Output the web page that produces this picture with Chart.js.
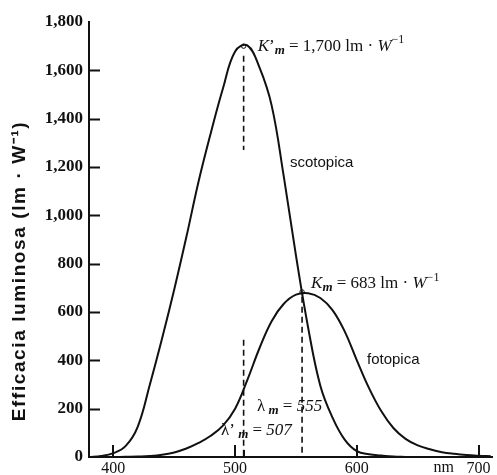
<!DOCTYPE html>
<html>
<head>
<meta charset="utf-8">
<script src="https://cdn.jsdelivr.net/npm/chart.js@4"></script>
<style>
  html, body { margin: 0; padding: 0; background: #fff; }
  #wrap { width: 497px; height: 475px; position: relative; }
</style>
</head>
<body>
<div id="wrap"><canvas id="chart"></canvas></div>
<script>
// wavelengths (nm) and luminous efficacy (lm/W)
const scotopicNm = [380, 390, 400, 410, 420, 430, 440, 450, 460, 470, 480, 490, 500, 510, 520, 530, 540, 550, 560, 570, 580, 590, 600, 610, 620, 630, 640];
const scotopicValues = [0, 4, 16, 45, 125, 300, 490, 693, 911, 1140, 1340, 1525, 1678, 1703, 1612, 1455, 1160, 833, 535, 295, 163, 72, 24, 11, 6, 2, 0];

const photopicNm = [400, 410, 420, 430, 440, 450, 460, 470, 480, 490, 500, 510, 520, 530, 540, 550, 560, 570, 580, 590, 600, 610, 620, 630, 640, 650, 660, 670, 680, 690, 700, 710];
const photopicValues = [0, 1, 2, 4, 9, 19, 35, 58, 88, 130, 200, 318, 450, 562, 634, 672, 678, 658, 608, 520, 400, 285, 190, 120, 75, 48, 32, 20, 13, 8, 5, 3];

const xTicks = [400, 500, 600, 700];
const yTicks = [0, 200, 400, 600, 800, 1000, 1200, 1400, 1600, 1800];

// peaks: lambda'm = 507 (K'm = 1700), lambda m = 555 (Km = 683)
const peakNm = [507, 555];
const peakValues = [1700, 683];

const toPoints = (xs, ys) => xs.map((x, i) => ({ x: x, y: ys[i] }));

const ink = '#111';
const serif = '"Liberation Serif", "DejaVu Serif", serif';
const sans = '"Liberation Sans", Arial, sans-serif';

// draw a row of text pieces with different fonts / offsets
function drawRuns(ctx, x, y, runs) {
  runs.forEach(r => {
    ctx.font = r.font;
    ctx.fillText(r.t, x, y + (r.dy || 0));
    x += ctx.measureText(r.t).width;
  });
}

const extras = {
  id: 'extras',
  afterDraw(chart) {
    const ctx = chart.ctx;
    const xs = chart.scales.x, ys = chart.scales.y;
    const left = chart.chartArea.left, bottom = chart.chartArea.bottom;
    ctx.save();
    ctx.strokeStyle = ink;
    ctx.fillStyle = ink;
    ctx.lineWidth = 2;

    // inward tick marks
    ctx.beginPath();
    yTicks.slice(1, -1).forEach(v => {
      const py = Math.round(ys.getPixelForValue(v)) + 0.5;
      ctx.moveTo(left, py);
      ctx.lineTo(left + 11, py);
    });
    xTicks.forEach(v => {
      const px = Math.round(xs.getPixelForValue(v));
      ctx.moveTo(px, bottom);
      ctx.lineTo(px, bottom - 12);
    });
    const p507 = Math.round(xs.getPixelForValue(peakNm[0]));
    ctx.moveTo(p507, bottom);
    ctx.lineTo(p507, bottom - 7);
    ctx.stroke();

    // "nm" before 700
    ctx.font = '16px ' + serif;
    ctx.textAlign = 'center';
    ctx.textBaseline = 'top';
    ctx.fillText('nm', xs.getPixelForValue(700) - 35, bottom + 3);

    // y axis title
    ctx.save();
    ctx.translate(20, 271);
    ctx.rotate(-Math.PI / 2);
    ctx.textAlign = 'center';
    ctx.textBaseline = 'middle';
    ctx.font = 'bold 19px ' + sans;
    ctx.letterSpacing = '1.6px';
    ctx.fillText('Efficacia luminosa (lm \u00b7 W\u207b\u00b9)', 0, 0);
    ctx.restore();

    ctx.textAlign = 'left';
    ctx.textBaseline = 'middle';
    const sx = xs.getPixelForValue(peakNm[0]), sy = ys.getPixelForValue(peakValues[0]);
    const fx = xs.getPixelForValue(peakNm[1]), fy = ys.getPixelForValue(peakValues[1]);

    drawRuns(ctx, sx + 14, sy, [
      { t: 'K', font: 'italic 17px ' + serif },
      { t: '\u2019', font: '17px ' + serif },
      { t: 'm', font: 'italic bold 13px ' + serif, dy: 4 },
      { t: ' = 1,700 lm \u00b7 ', font: '17px ' + serif },
      { t: 'W', font: 'italic 17px ' + serif },
      { t: '\u22121', font: '12px ' + serif, dy: -6 }
    ]);
    drawRuns(ctx, fx + 9, fy - 8, [
      { t: 'K', font: 'italic 17px ' + serif },
      { t: 'm', font: 'italic bold 13px ' + serif, dy: 4 },
      { t: ' = 683 lm \u00b7 ', font: '17px ' + serif },
      { t: 'W', font: 'italic 17px ' + serif },
      { t: '\u22121', font: '12px ' + serif, dy: -6 }
    ]);
    drawRuns(ctx, 257, 407, [
      { t: '\u03bb', font: '17px ' + serif },
      { t: ' m', font: 'italic bold 13px ' + serif, dy: 4 },
      { t: ' = ', font: '17px ' + serif },
      { t: '555', font: 'italic 17px ' + serif }
    ]);
    drawRuns(ctx, 221, 431, [
      { t: '\u03bb\u2019', font: '17px ' + serif },
      { t: ' m', font: 'italic bold 13px ' + serif, dy: 4 },
      { t: ' = ', font: '17px ' + serif },
      { t: '507', font: 'italic 17px ' + serif }
    ]);

    ctx.font = '15px ' + sans;
    ctx.fillText('scotopica', 290, 163);
    ctx.fillText('fotopica', 367, 360);
    ctx.restore();
  }
};

const dashed = { borderColor: ink, borderWidth: 1.6, borderDash: [6, 4], pointRadius: 0, fill: false };
const curve = { borderColor: ink, borderWidth: 2, pointRadius: 0, tension: 0.4, fill: false };

new Chart(document.getElementById('chart'), {
  type: 'line',
  data: {
    datasets: [
      Object.assign({ label: 'scotopica', data: toPoints(scotopicNm, scotopicValues) }, curve),
      Object.assign({ label: 'fotopica', data: toPoints(photopicNm, photopicValues) }, curve),
      Object.assign({ data: [{ x: peakNm[0], y: peakValues[0] - 40 }, { x: peakNm[0], y: 1270 }] }, dashed),
      Object.assign({ data: [{ x: peakNm[0], y: 485 }, { x: peakNm[0], y: 0 }] }, dashed),
      Object.assign({ data: [{ x: peakNm[1], y: peakValues[1] - 20 }, { x: peakNm[1], y: 0 }] }, dashed),
      { type: 'scatter', data: toPoints(peakNm, peakValues), pointRadius: 2.2, pointBackgroundColor: '#fff',
        pointBorderColor: ink, pointBorderWidth: 1 }
    ]
  },
  options: {
    responsive: true,
    maintainAspectRatio: false,
    animation: false,
    layout: { padding: { top: 22, right: 0, bottom: 0, left: 0 } },
    plugins: { legend: { display: false }, tooltip: { enabled: false } },
    scales: {
      x: {
        type: 'linear',
        min: 380,
        max: 711,
        afterBuildTicks: s => { s.ticks = xTicks.map(v => ({ value: v })); },
        afterFit: s => { s.height = 18; },
        grid: { display: false, drawTicks: false },
        border: { display: true, color: ink, width: 2 },
        ticks: { color: ink, padding: 2, maxRotation: 0, font: { family: serif, size: 16 } }
      },
      y: {
        min: 0,
        max: 1800,
        afterBuildTicks: s => { s.ticks = yTicks.map(v => ({ value: v })); },
        afterFit: s => { s.width = 89; },
        grid: { display: false, drawTicks: false },
        border: { display: true, color: ink, width: 2 },
        ticks: {
          color: ink, padding: 6,
          font: { family: serif, size: 17, weight: 'bold' },
          callback: v => v.toLocaleString('en-US')
        }
      }
    }
  },
  plugins: [extras]
});
</script>
</body>
</html>
